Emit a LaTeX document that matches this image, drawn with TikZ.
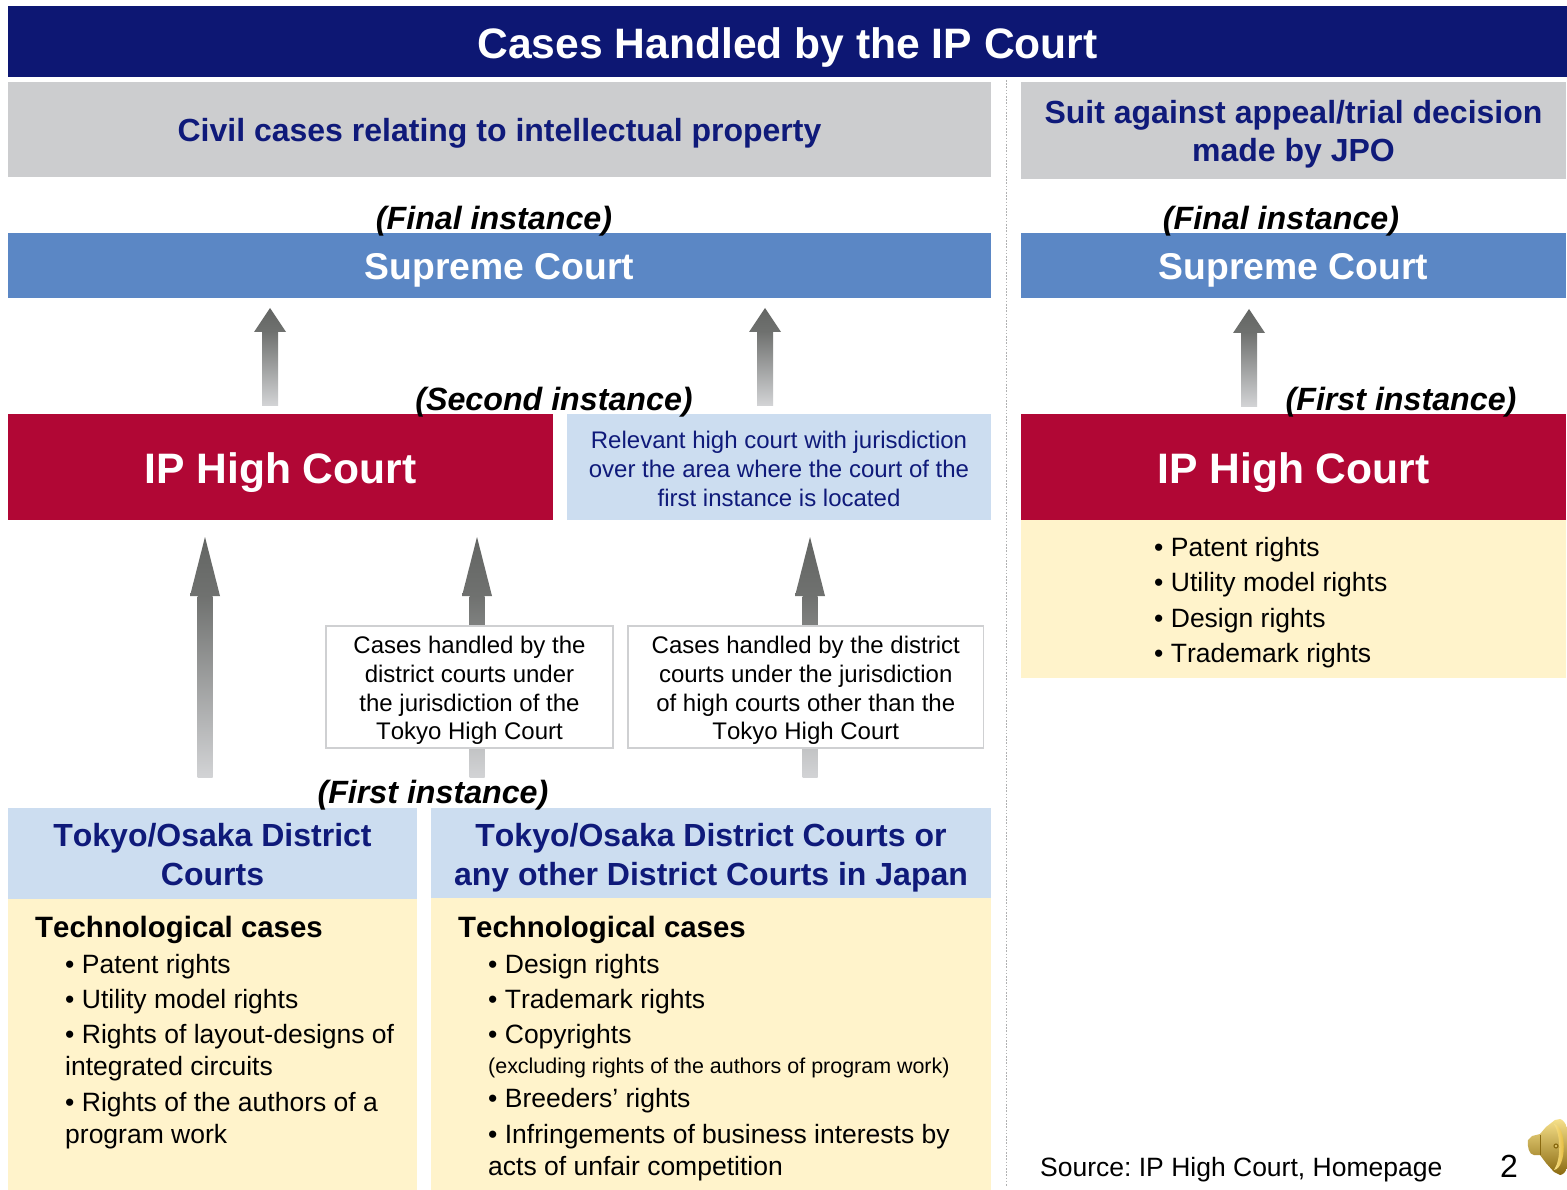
\documentclass[tikz,border=0pt]{standalone}
\usepackage{fontspec}
\setmainfont[Kerning=Off]{Liberation Sans}
\frenchspacing
\definecolor{navy}{HTML}{0D1773}
\definecolor{navytxt}{HTML}{0F1A7A}
\definecolor{greybox}{HTML}{CCCDCF}
\definecolor{supblue}{HTML}{5B87C5}
\definecolor{ipred}{HTML}{B10735}
\definecolor{lightblue}{HTML}{CCDDF0}
\definecolor{cream}{HTML}{FFF3CB}
\definecolor{arrowdark}{HTML}{636563}
\definecolor{arrowmid}{HTML}{A4A5A6}
\definecolor{arrowlight}{HTML}{D2D3D5}
\definecolor{framegrey}{HTML}{CFD0D2}
\definecolor{golddark}{HTML}{8A6A10}
\definecolor{goldmid}{HTML}{E0B02C}
\definecolor{goldlight}{HTML}{F6E08A}
\newcommand{\fs}[2]{\fontsize{#1}{#2}\selectfont}
% \rbox[text offset]{name}{x0}{y0}{x1}{y1}{style}{text}
\newcommand{\rbox}[8][0]{%
  \path[#7] (#3,#4) rectangle (#5,#6);
  \node[#7,draw=none,fill=none,inner sep=0pt,align=center] (#2) at ({(#3+#5)/2},{(#4+#6)/2+#1}) {#8};}
% \blockarrow{name}{cx}{tipy}{headbasey}{headhalf}{shafthalf}{bottomy}
\newcommand{\blockarrow}[7]{%
  \coordinate (#1tip) at (#2,#3);
  \coordinate (#1base) at (#2,#7);
  \shade[top color=arrowdark,bottom color=arrowdark!92!white,shading=axis]
    (#1tip) -- (#2+#5,#4) -- (#2-#5,#4) -- cycle;
  \shade[top color=arrowdark!92!white,middle color=arrowmid,bottom color=arrowlight]
    (#2-#6,#4) rectangle (#2+#6,#7);}
\tikzset{
  x=1pt,y=-1pt,
  titlebox/.style={fill=navy,text=white,font=\fs{42.6}{50}\bfseries},
  greyhead/.style={fill=greybox,text=navytxt,font=\fs{32}{38}\bfseries},
  suprbox/.style={fill=supblue,text=white,font=\fs{37.3}{44}\bfseries},
  redbox/.style={fill=ipred,text=white,font=\fs{42.6}{50}\bfseries},
  relbox/.style={fill=lightblue,text=navytxt,font=\fs{24}{29}},
  courthead/.style={fill=lightblue,text=navytxt,font=\fs{32}{39}\bfseries},
  creambox/.style={fill=cream},
  framed/.style={fill=white,draw=framegrey,line width=1.6pt,text=black,font=\fs{24}{28.7}},
  instance/.style={inner sep=0pt,anchor=base,font=\fs{32.2}{38}\bfseries\itshape,text=black},
  item/.style={inner sep=0pt,anchor=base west,align=left,font=\fs{26.5}{32},text=black},
  subhead/.style={inner sep=0pt,anchor=base west,font=\fs{29.4}{35}\bfseries,text=black},
  small/.style={inner sep=0pt,anchor=base west,font=\fs{21.45}{26},text=black},
}
\begin{document}
\begin{tikzpicture}
\useasboundingbox (0,0) rectangle (1567,1190);
\fill[white] (0,0) rectangle (1567,1190);

% separator
\coordinate (septop) at (1006.5,80);
\coordinate (sepbot) at (1006.5,1186);
\draw[framegrey!85!black,line width=1.6pt,dash pattern=on 1.6pt off 1.6pt] (septop) -- (sepbot);

% headers
\rbox[5.5]{title}{8}{6}{1567}{77}{titlebox}{Cases Handled by the IP Court}
\rbox[4]{civil}{8}{82}{991}{177}{greyhead}{Civil cases relating to intellectual property}
\rbox[4]{suit}{1021}{82}{1566}{179}{greyhead}{Suit against appeal/trial decision\\ made by JPO}

\rbox[5]{sup1}{8}{233}{991}{298}{suprbox}{Supreme Court}
\rbox[5]{sup2}{1021}{233}{1566}{298}{suprbox}{Supreme Court}

% block arrows upper row
\blockarrow{au1}{270}{308}{332}{16}{8}{405}
\blockarrow{au2}{765}{308}{332}{16}{8}{405}
\blockarrow{au3}{1249}{309}{333}{16}{8}{406}

\rbox[6]{ip1}{8}{414}{553}{520}{redbox}{IP High Court}
\rbox[1.5]{rel}{567}{414}{991}{520}{relbox}{Relevant high court with jurisdiction\\ over the area where the court of the\\ first instance is located}
\rbox[6]{ip2}{1021}{414}{1566}{520}{redbox}{IP High Court}

% block arrows lower row
\blockarrow{al1}{205}{537}{596}{15}{7.5}{777}
\blockarrow{al2}{477}{537}{596}{15}{7.5}{777}
\blockarrow{al3}{810}{537}{596}{15}{7.5}{777}

\rbox[3.5]{tok}{326}{626}{613}{748}{framed}{Cases handled by the\\ district courts under\\ the jurisdiction of the\\ Tokyo High Court}
\rbox[3.5]{oth}{628}{626}{983.5}{748}{framed}{Cases handled by the district\\ courts under the jurisdiction\\ of high courts other than the\\ Tokyo High Court}

% right list
\path[creambox] (1021,520) rectangle (1566,678);
\node[item] (r1) at (1154,556) {•\hspace{7.4pt}Patent rights};
\node[item] (r2) at (1154,591) {•\hspace{7.4pt}Utility model rights};
\node[item] (r3) at (1154,627) {•\hspace{7.4pt}Design rights};
\node[item] (r4) at (1154,662) {•\hspace{7.4pt}Trademark rights};

% district courts
\path[creambox] (8,899) rectangle (417,1190);
\path[creambox] (431,898) rectangle (991,1190);
\rbox[1]{dc1}{8}{808}{417}{899}{courthead}{Tokyo/Osaka District\\ Courts}
\rbox[5]{dc2}{431}{808}{991}{898}{courthead}{Tokyo/Osaka District Courts or\\ any other District Courts in Japan}

\node[subhead] (h1) at (35,937) {Technological cases};
\node[item] (a1) at (65,973) {•\hspace{7.4pt}Patent rights};
\node[item] (a2) at (65,1008) {•\hspace{7.4pt}Utility model rights};
\node[item] (a3) at (65,1043) {•\hspace{7.4pt}Rights of layout-designs of};
\node[item] (a3b) at (65,1075) {integrated circuits};
\node[item] (a4) at (65,1111) {•\hspace{7.4pt}Rights of the authors of a};
\node[item] (a4b) at (65,1143) {program work};

\node[subhead] (h2) at (458,937) {Technological cases};
\node[item] (b1) at (488,973) {•\hspace{7.4pt}Design rights};
\node[item] (b2) at (488,1008) {•\hspace{7.4pt}Trademark rights};
\node[item] (b3) at (488,1043) {•\hspace{7.4pt}Copyrights};
\node[small] (b3b) at (488,1073) {(excluding rights of the authors of program work)};
\node[item] (b4) at (488,1107) {•\hspace{7.4pt}Breeders’ rights};
\node[item] (b5) at (488,1143) {•\hspace{7.4pt}Infringements of business interests by};
\node[item] (b5b) at (488,1175) {acts of unfair competition};

% instance labels
\node[instance] (f1) at (494,229.5) {(Final instance)};
\node[instance] (f2) at (1281,229.5) {(Final instance)};
\node[instance] (s1) at (554,410) {(Second instance)};
\node[instance] (s2) at (1401,410) {(First instance)};
\node[instance] (s3) at (433,803) {(First instance)};

% footer
\node[item] (src) at (1040,1176) {Source: IP High Court, Homepage};
\node[inner sep=0pt,anchor=base,font=\fs{32}{38},text=black] (pg) at (1509,1177) {2};

% speaker icon
\begin{scope}
\clip (1520,1110) rectangle (1567,1180);
\shade[top color=goldlight,middle color=goldmid,bottom color=golddark]
 (1528,1140) -- (1532,1136) -- (1540,1134) -- (1546,1127) -- (1555,1120) -- (1560,1119)
 .. controls (1566,1120) and (1571,1135) .. (1571,1148) .. controls (1571,1162) and (1566,1175) .. (1560,1175)
 -- (1554,1172) -- (1546,1163) -- (1540,1155) -- (1534,1155) .. controls (1529,1155) and (1527,1146) .. (1528,1140) -- cycle;
\shade[left color=goldlight,right color=goldmid]
 (1554,1124) .. controls (1561,1135) and (1561,1160) .. (1554,1170) .. controls (1567,1168) and (1567,1126) .. (1554,1124) -- cycle;
\draw[golddark,line width=0.7pt] (1540,1135) -- (1540,1155);
\fill[golddark] (1556,1146) circle (2.6);
\fill[goldlight] (1556,1146) circle (1.2);
\end{scope}
\end{tikzpicture}
\end{document}
